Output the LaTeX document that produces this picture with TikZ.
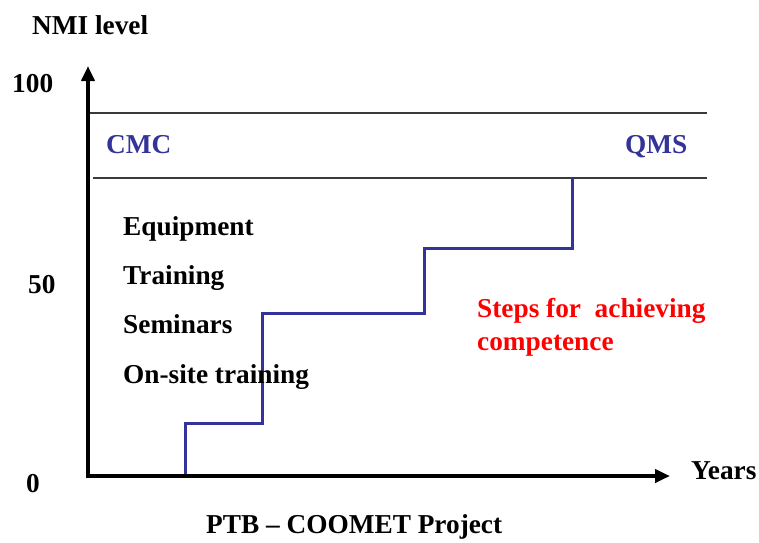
\documentclass[tikz,border=0pt]{standalone}
\usepackage{fontspec}
\setmainfont{Liberation Serif}
\usetikzlibrary{arrows.meta}
\definecolor{stepblue}{HTML}{333399}
\definecolor{linegray}{HTML}{3A3A3A}
\tikzset{
  lbl/.style={font=\fontsize{27.3}{31}\selectfont\bfseries, inner sep=0pt, anchor=base west},
  axis/.style={line width=4.5pt, -{Triangle[length=15pt,width=13pt]}},
  band/.style={line width=1.4pt, draw=linegray},
  stair/.style={line width=3pt, draw=stepblue, line join=miter}
}
\begin{document}
\begin{tikzpicture}[x=1pt,y=-1pt]
\useasboundingbox (0,0) rectangle (759,542);
% coordinates
\coordinate (o) at (88,476);
\coordinate (ytip) at (88,66);
\coordinate (xtip) at (670,476);
% band lines
\draw[band] (88,113) -- (707,113);
\draw[band] (93,178) -- (707,178);
% stair line
\draw[stair] (185,476) -- (185,423) -- (262,423) -- (262,313) -- (424,313) -- (424,248) -- (572,248) -- (572,178);
% axes
\draw[axis] (86,476) -- (xtip);
\draw[axis] (88,478) -- (ytip);
% labels
\node[lbl] (nmi) at (32,34) {NMI level};
\node[lbl] (y100) at (12,92) {100};
\node[lbl] (y50) at (28,293) {50};
\node[lbl] (y0) at (26,492) {0};
\node[lbl, text=stepblue] (cmc) at (106,153) {CMC};
\node[lbl, text=stepblue] (qms) at (625,153) {QMS};
\node[lbl] (equip) at (123,235) {Equipment};
\node[lbl] (train) at (123,284) {Training};
\node[lbl] (sem) at (123,333) {Seminars};
\node[lbl] (onsite) at (123,383) {On-site training};
\node[lbl, text=red] (steps1) at (477,317) {Steps for\ \ achieving};
\node[lbl, text=red] (steps2) at (477,350) {competence};
\node[lbl] (years) at (691,479) {Years};
\node[lbl] (ptb) at (206,533) {PTB -- COOMET Project};
\end{tikzpicture}
\end{document}
